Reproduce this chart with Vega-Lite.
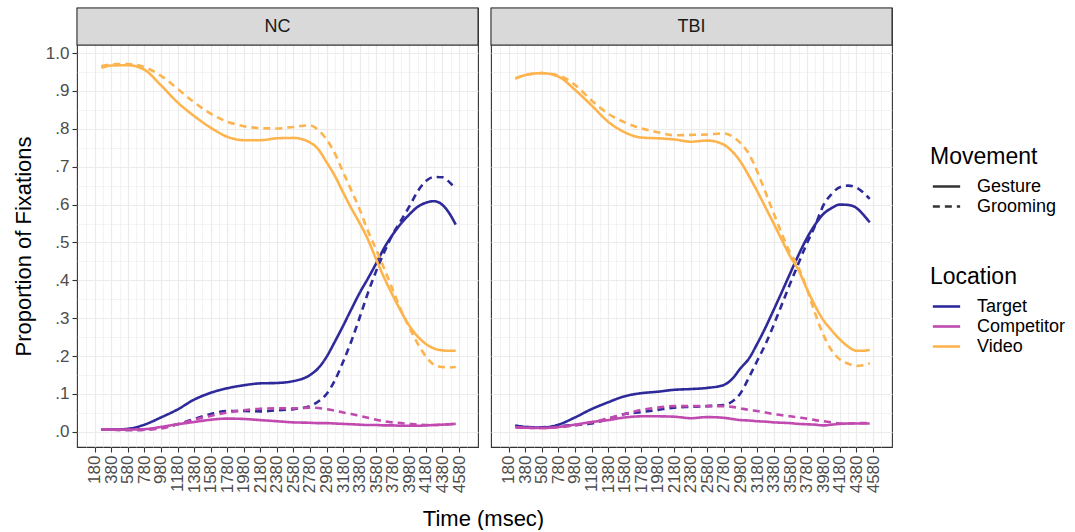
{
"$schema":"https://vega.github.io/schema/vega-lite/v6.json",
"padding":{"left":11,"top":6,"right":0,"bottom":0},
"background":"white",
"bounds":"flush",
"config":{"font":"Liberation Sans","view":{"stroke":"#333333","strokeWidth":1.1},
"legend":{"titleFontSize":23,"titleFontWeight":"normal","titleColor":"black","labelFontSize":18,"labelColor":"black","symbolType":"M-1.55,0H1.55","symbolSize":310,"symbolStrokeWidth":2.6,"symbolFillColor":"transparent","symbolOffset":6,"rowPadding":0,"titlePadding":7,"labelOffset":20}},
"datasets":{"fix":[
{"group":"NC","location":"Target","time":260,"Gesture":0.007,"Grooming":0.007},
{"group":"NC","location":"Target","time":380,"Gesture":0.006,"Grooming":0.006},
{"group":"NC","location":"Target","time":580,"Gesture":0.008,"Grooming":0.005},
{"group":"NC","location":"Target","time":780,"Gesture":0.019,"Grooming":0.006},
{"group":"NC","location":"Target","time":980,"Gesture":0.038,"Grooming":0.011},
{"group":"NC","location":"Target","time":1180,"Gesture":0.059,"Grooming":0.020},
{"group":"NC","location":"Target","time":1380,"Gesture":0.085,"Grooming":0.034},
{"group":"NC","location":"Target","time":1580,"Gesture":0.103,"Grooming":0.047},
{"group":"NC","location":"Target","time":1780,"Gesture":0.115,"Grooming":0.055},
{"group":"NC","location":"Target","time":1980,"Gesture":0.123,"Grooming":0.055},
{"group":"NC","location":"Target","time":2180,"Gesture":0.128,"Grooming":0.054},
{"group":"NC","location":"Target","time":2380,"Gesture":0.129,"Grooming":0.057},
{"group":"NC","location":"Target","time":2580,"Gesture":0.134,"Grooming":0.060},
{"group":"NC","location":"Target","time":2780,"Gesture":0.150,"Grooming":0.068},
{"group":"NC","location":"Target","time":2880,"Gesture":0.168,"Grooming":0.080},
{"group":"NC","location":"Target","time":2980,"Gesture":0.198,"Grooming":0.100},
{"group":"NC","location":"Target","time":3080,"Gesture":0.238,"Grooming":0.136},
{"group":"NC","location":"Target","time":3180,"Gesture":0.280,"Grooming":0.185},
{"group":"NC","location":"Target","time":3280,"Gesture":0.324,"Grooming":0.240},
{"group":"NC","location":"Target","time":3380,"Gesture":0.367,"Grooming":0.302},
{"group":"NC","location":"Target","time":3480,"Gesture":0.405,"Grooming":0.367},
{"group":"NC","location":"Target","time":3580,"Gesture":0.445,"Grooming":0.425},
{"group":"NC","location":"Target","time":3680,"Gesture":0.487,"Grooming":0.476},
{"group":"NC","location":"Target","time":3780,"Gesture":0.521,"Grooming":0.522},
{"group":"NC","location":"Target","time":3880,"Gesture":0.550,"Grooming":0.558},
{"group":"NC","location":"Target","time":3980,"Gesture":0.574,"Grooming":0.595},
{"group":"NC","location":"Target","time":4080,"Gesture":0.594,"Grooming":0.635},
{"group":"NC","location":"Target","time":4180,"Gesture":0.605,"Grooming":0.662},
{"group":"NC","location":"Target","time":4280,"Gesture":0.609,"Grooming":0.673},
{"group":"NC","location":"Target","time":4380,"Gesture":0.599,"Grooming":0.672},
{"group":"NC","location":"Target","time":4460,"Gesture":0.578,"Grooming":0.660},
{"group":"NC","location":"Target","time":4540,"Gesture":0.547,"Grooming":0.641},
{"group":"NC","location":"Competitor","time":260,"Gesture":0.007,"Grooming":0.007},
{"group":"NC","location":"Competitor","time":380,"Gesture":0.006,"Grooming":0.006},
{"group":"NC","location":"Competitor","time":580,"Gesture":0.006,"Grooming":0.005},
{"group":"NC","location":"Competitor","time":780,"Gesture":0.007,"Grooming":0.006},
{"group":"NC","location":"Competitor","time":980,"Gesture":0.013,"Grooming":0.009},
{"group":"NC","location":"Competitor","time":1180,"Gesture":0.020,"Grooming":0.020},
{"group":"NC","location":"Competitor","time":1380,"Gesture":0.026,"Grooming":0.032},
{"group":"NC","location":"Competitor","time":1580,"Gesture":0.032,"Grooming":0.042},
{"group":"NC","location":"Competitor","time":1780,"Gesture":0.035,"Grooming":0.051},
{"group":"NC","location":"Competitor","time":1980,"Gesture":0.034,"Grooming":0.057},
{"group":"NC","location":"Competitor","time":2180,"Gesture":0.031,"Grooming":0.061},
{"group":"NC","location":"Competitor","time":2380,"Gesture":0.028,"Grooming":0.062},
{"group":"NC","location":"Competitor","time":2580,"Gesture":0.025,"Grooming":0.062},
{"group":"NC","location":"Competitor","time":2780,"Gesture":0.024,"Grooming":0.064},
{"group":"NC","location":"Competitor","time":2880,"Gesture":0.023,"Grooming":0.063},
{"group":"NC","location":"Competitor","time":2980,"Gesture":0.023,"Grooming":0.060},
{"group":"NC","location":"Competitor","time":3080,"Gesture":0.022,"Grooming":0.056},
{"group":"NC","location":"Competitor","time":3180,"Gesture":0.021,"Grooming":0.051},
{"group":"NC","location":"Competitor","time":3280,"Gesture":0.020,"Grooming":0.047},
{"group":"NC","location":"Competitor","time":3380,"Gesture":0.019,"Grooming":0.042},
{"group":"NC","location":"Competitor","time":3480,"Gesture":0.018,"Grooming":0.037},
{"group":"NC","location":"Competitor","time":3580,"Gesture":0.018,"Grooming":0.032},
{"group":"NC","location":"Competitor","time":3680,"Gesture":0.017,"Grooming":0.028},
{"group":"NC","location":"Competitor","time":3780,"Gesture":0.017,"Grooming":0.025},
{"group":"NC","location":"Competitor","time":3880,"Gesture":0.016,"Grooming":0.023},
{"group":"NC","location":"Competitor","time":3980,"Gesture":0.016,"Grooming":0.021},
{"group":"NC","location":"Competitor","time":4080,"Gesture":0.016,"Grooming":0.019},
{"group":"NC","location":"Competitor","time":4180,"Gesture":0.017,"Grooming":0.018},
{"group":"NC","location":"Competitor","time":4280,"Gesture":0.018,"Grooming":0.018},
{"group":"NC","location":"Competitor","time":4380,"Gesture":0.019,"Grooming":0.019},
{"group":"NC","location":"Competitor","time":4460,"Gesture":0.020,"Grooming":0.020},
{"group":"NC","location":"Competitor","time":4540,"Gesture":0.021,"Grooming":0.021},
{"group":"NC","location":"Video","time":260,"Gesture":0.961,"Grooming":0.966},
{"group":"NC","location":"Video","time":380,"Gesture":0.967,"Grooming":0.970},
{"group":"NC","location":"Video","time":580,"Gesture":0.968,"Grooming":0.971},
{"group":"NC","location":"Video","time":780,"Gesture":0.956,"Grooming":0.963},
{"group":"NC","location":"Video","time":980,"Gesture":0.915,"Grooming":0.940},
{"group":"NC","location":"Video","time":1180,"Gesture":0.870,"Grooming":0.906},
{"group":"NC","location":"Video","time":1380,"Gesture":0.834,"Grooming":0.870},
{"group":"NC","location":"Video","time":1580,"Gesture":0.803,"Grooming":0.840},
{"group":"NC","location":"Video","time":1780,"Gesture":0.779,"Grooming":0.819},
{"group":"NC","location":"Video","time":1980,"Gesture":0.770,"Grooming":0.807},
{"group":"NC","location":"Video","time":2180,"Gesture":0.770,"Grooming":0.802},
{"group":"NC","location":"Video","time":2380,"Gesture":0.775,"Grooming":0.801},
{"group":"NC","location":"Video","time":2580,"Gesture":0.776,"Grooming":0.805},
{"group":"NC","location":"Video","time":2780,"Gesture":0.764,"Grooming":0.809},
{"group":"NC","location":"Video","time":2880,"Gesture":0.746,"Grooming":0.797},
{"group":"NC","location":"Video","time":2980,"Gesture":0.712,"Grooming":0.772},
{"group":"NC","location":"Video","time":3080,"Gesture":0.676,"Grooming":0.735},
{"group":"NC","location":"Video","time":3180,"Gesture":0.632,"Grooming":0.686},
{"group":"NC","location":"Video","time":3280,"Gesture":0.590,"Grooming":0.637},
{"group":"NC","location":"Video","time":3380,"Gesture":0.551,"Grooming":0.587},
{"group":"NC","location":"Video","time":3480,"Gesture":0.508,"Grooming":0.530},
{"group":"NC","location":"Video","time":3580,"Gesture":0.455,"Grooming":0.481},
{"group":"NC","location":"Video","time":3680,"Gesture":0.405,"Grooming":0.429},
{"group":"NC","location":"Video","time":3780,"Gesture":0.360,"Grooming":0.375},
{"group":"NC","location":"Video","time":3880,"Gesture":0.318,"Grooming":0.321},
{"group":"NC","location":"Video","time":3980,"Gesture":0.280,"Grooming":0.275},
{"group":"NC","location":"Video","time":4080,"Gesture":0.252,"Grooming":0.233},
{"group":"NC","location":"Video","time":4180,"Gesture":0.232,"Grooming":0.199},
{"group":"NC","location":"Video","time":4280,"Gesture":0.220,"Grooming":0.177},
{"group":"NC","location":"Video","time":4380,"Gesture":0.215,"Grooming":0.171},
{"group":"NC","location":"Video","time":4460,"Gesture":0.214,"Grooming":0.170},
{"group":"NC","location":"Video","time":4540,"Gesture":0.214,"Grooming":0.171},
{"group":"TBI","location":"Target","time":260,"Gesture":0.016,"Grooming":0.016},
{"group":"TBI","location":"Target","time":380,"Gesture":0.013,"Grooming":0.013},
{"group":"TBI","location":"Target","time":580,"Gesture":0.011,"Grooming":0.012},
{"group":"TBI","location":"Target","time":780,"Gesture":0.019,"Grooming":0.015},
{"group":"TBI","location":"Target","time":980,"Gesture":0.038,"Grooming":0.018},
{"group":"TBI","location":"Target","time":1180,"Gesture":0.060,"Grooming":0.022},
{"group":"TBI","location":"Target","time":1380,"Gesture":0.078,"Grooming":0.034},
{"group":"TBI","location":"Target","time":1580,"Gesture":0.094,"Grooming":0.047},
{"group":"TBI","location":"Target","time":1780,"Gesture":0.102,"Grooming":0.052},
{"group":"TBI","location":"Target","time":1980,"Gesture":0.106,"Grooming":0.058},
{"group":"TBI","location":"Target","time":2180,"Gesture":0.111,"Grooming":0.064},
{"group":"TBI","location":"Target","time":2380,"Gesture":0.113,"Grooming":0.066},
{"group":"TBI","location":"Target","time":2580,"Gesture":0.116,"Grooming":0.068},
{"group":"TBI","location":"Target","time":2780,"Gesture":0.124,"Grooming":0.071},
{"group":"TBI","location":"Target","time":2880,"Gesture":0.140,"Grooming":0.080},
{"group":"TBI","location":"Target","time":2980,"Gesture":0.168,"Grooming":0.102},
{"group":"TBI","location":"Target","time":3080,"Gesture":0.193,"Grooming":0.143},
{"group":"TBI","location":"Target","time":3180,"Gesture":0.232,"Grooming":0.187},
{"group":"TBI","location":"Target","time":3280,"Gesture":0.275,"Grooming":0.231},
{"group":"TBI","location":"Target","time":3380,"Gesture":0.322,"Grooming":0.282},
{"group":"TBI","location":"Target","time":3480,"Gesture":0.370,"Grooming":0.337},
{"group":"TBI","location":"Target","time":3580,"Gesture":0.419,"Grooming":0.392},
{"group":"TBI","location":"Target","time":3680,"Gesture":0.467,"Grooming":0.445},
{"group":"TBI","location":"Target","time":3780,"Gesture":0.511,"Grooming":0.497},
{"group":"TBI","location":"Target","time":3880,"Gesture":0.547,"Grooming":0.544},
{"group":"TBI","location":"Target","time":3980,"Gesture":0.575,"Grooming":0.598},
{"group":"TBI","location":"Target","time":4080,"Gesture":0.591,"Grooming":0.628},
{"group":"TBI","location":"Target","time":4180,"Gesture":0.600,"Grooming":0.646},
{"group":"TBI","location":"Target","time":4280,"Gesture":0.599,"Grooming":0.650},
{"group":"TBI","location":"Target","time":4380,"Gesture":0.591,"Grooming":0.645},
{"group":"TBI","location":"Target","time":4460,"Gesture":0.574,"Grooming":0.632},
{"group":"TBI","location":"Target","time":4540,"Gesture":0.553,"Grooming":0.615},
{"group":"TBI","location":"Competitor","time":260,"Gesture":0.012,"Grooming":0.012},
{"group":"TBI","location":"Competitor","time":380,"Gesture":0.011,"Grooming":0.011},
{"group":"TBI","location":"Competitor","time":580,"Gesture":0.010,"Grooming":0.010},
{"group":"TBI","location":"Competitor","time":780,"Gesture":0.013,"Grooming":0.012},
{"group":"TBI","location":"Competitor","time":980,"Gesture":0.019,"Grooming":0.017},
{"group":"TBI","location":"Competitor","time":1180,"Gesture":0.026,"Grooming":0.025},
{"group":"TBI","location":"Competitor","time":1380,"Gesture":0.031,"Grooming":0.036},
{"group":"TBI","location":"Competitor","time":1580,"Gesture":0.038,"Grooming":0.047},
{"group":"TBI","location":"Competitor","time":1780,"Gesture":0.041,"Grooming":0.058},
{"group":"TBI","location":"Competitor","time":1980,"Gesture":0.041,"Grooming":0.064},
{"group":"TBI","location":"Competitor","time":2180,"Gesture":0.040,"Grooming":0.068},
{"group":"TBI","location":"Competitor","time":2380,"Gesture":0.036,"Grooming":0.068},
{"group":"TBI","location":"Competitor","time":2580,"Gesture":0.039,"Grooming":0.068},
{"group":"TBI","location":"Competitor","time":2780,"Gesture":0.037,"Grooming":0.068},
{"group":"TBI","location":"Competitor","time":2880,"Gesture":0.034,"Grooming":0.066},
{"group":"TBI","location":"Competitor","time":2980,"Gesture":0.031,"Grooming":0.062},
{"group":"TBI","location":"Competitor","time":3080,"Gesture":0.030,"Grooming":0.058},
{"group":"TBI","location":"Competitor","time":3180,"Gesture":0.028,"Grooming":0.055},
{"group":"TBI","location":"Competitor","time":3280,"Gesture":0.027,"Grooming":0.051},
{"group":"TBI","location":"Competitor","time":3380,"Gesture":0.025,"Grooming":0.047},
{"group":"TBI","location":"Competitor","time":3480,"Gesture":0.024,"Grooming":0.044},
{"group":"TBI","location":"Competitor","time":3580,"Gesture":0.023,"Grooming":0.041},
{"group":"TBI","location":"Competitor","time":3680,"Gesture":0.021,"Grooming":0.038},
{"group":"TBI","location":"Competitor","time":3780,"Gesture":0.020,"Grooming":0.035},
{"group":"TBI","location":"Competitor","time":3880,"Gesture":0.019,"Grooming":0.031},
{"group":"TBI","location":"Competitor","time":3980,"Gesture":0.017,"Grooming":0.028},
{"group":"TBI","location":"Competitor","time":4080,"Gesture":0.019,"Grooming":0.025},
{"group":"TBI","location":"Competitor","time":4180,"Gesture":0.021,"Grooming":0.022},
{"group":"TBI","location":"Competitor","time":4280,"Gesture":0.022,"Grooming":0.022},
{"group":"TBI","location":"Competitor","time":4380,"Gesture":0.022,"Grooming":0.023},
{"group":"TBI","location":"Competitor","time":4460,"Gesture":0.022,"Grooming":0.023},
{"group":"TBI","location":"Competitor","time":4540,"Gesture":0.022,"Grooming":0.024},
{"group":"TBI","location":"Video","time":260,"Gesture":0.933,"Grooming":0.933},
{"group":"TBI","location":"Video","time":380,"Gesture":0.942,"Grooming":0.942},
{"group":"TBI","location":"Video","time":580,"Gesture":0.947,"Grooming":0.947},
{"group":"TBI","location":"Video","time":780,"Gesture":0.938,"Grooming":0.941},
{"group":"TBI","location":"Video","time":980,"Gesture":0.903,"Grooming":0.916},
{"group":"TBI","location":"Video","time":1180,"Gesture":0.862,"Grooming":0.875},
{"group":"TBI","location":"Video","time":1380,"Gesture":0.819,"Grooming":0.840},
{"group":"TBI","location":"Video","time":1580,"Gesture":0.791,"Grooming":0.817},
{"group":"TBI","location":"Video","time":1780,"Gesture":0.777,"Grooming":0.801},
{"group":"TBI","location":"Video","time":1980,"Gesture":0.775,"Grooming":0.791},
{"group":"TBI","location":"Video","time":2180,"Gesture":0.772,"Grooming":0.783},
{"group":"TBI","location":"Video","time":2380,"Gesture":0.766,"Grooming":0.784},
{"group":"TBI","location":"Video","time":2580,"Gesture":0.769,"Grooming":0.785},
{"group":"TBI","location":"Video","time":2780,"Gesture":0.758,"Grooming":0.788},
{"group":"TBI","location":"Video","time":2880,"Gesture":0.740,"Grooming":0.780},
{"group":"TBI","location":"Video","time":2980,"Gesture":0.713,"Grooming":0.762},
{"group":"TBI","location":"Video","time":3080,"Gesture":0.676,"Grooming":0.734},
{"group":"TBI","location":"Video","time":3180,"Gesture":0.636,"Grooming":0.688},
{"group":"TBI","location":"Video","time":3280,"Gesture":0.593,"Grooming":0.633},
{"group":"TBI","location":"Video","time":3380,"Gesture":0.550,"Grooming":0.577},
{"group":"TBI","location":"Video","time":3480,"Gesture":0.506,"Grooming":0.522},
{"group":"TBI","location":"Video","time":3580,"Gesture":0.463,"Grooming":0.472},
{"group":"TBI","location":"Video","time":3680,"Gesture":0.427,"Grooming":0.434},
{"group":"TBI","location":"Video","time":3780,"Gesture":0.378,"Grooming":0.378},
{"group":"TBI","location":"Video","time":3880,"Gesture":0.333,"Grooming":0.313},
{"group":"TBI","location":"Video","time":3980,"Gesture":0.295,"Grooming":0.256},
{"group":"TBI","location":"Video","time":4080,"Gesture":0.268,"Grooming":0.215},
{"group":"TBI","location":"Video","time":4180,"Gesture":0.244,"Grooming":0.191},
{"group":"TBI","location":"Video","time":4280,"Gesture":0.225,"Grooming":0.180},
{"group":"TBI","location":"Video","time":4380,"Gesture":0.214,"Grooming":0.174},
{"group":"TBI","location":"Video","time":4460,"Gesture":0.214,"Grooming":0.176},
{"group":"TBI","location":"Video","time":4540,"Gesture":0.217,"Grooming":0.181}
]},
"data":{"name":"fix"},
"spacing":13,
"hconcat":[
{"width":401,"height":439,
"layer":[
{"mark":{"type":"line","interpolate":"monotone","strokeWidth":2.6},
"transform":[{"filter":"datum.group === 'NC'"},{"fold":["Gesture","Grooming"],"as":["movement","prop"]}],
"encoding":{
"x":{"field":"time","type":"quantitative","scale":{"domain":[-34,4809],"nice":false,"zero":false},
"axis":{"values":[180,380,580,780,980,1180,1380,1580,1780,1980,2180,2380,2580,2780,2980,3180,3380,3580,3780,3980,4180,4380,4580],"format":"d","labelAngle":-90,"labelAlign":"right","labelBaseline":"middle","labelFontSize":17,"labelColor":"#4D4D4D","labelPadding":3,"labelFlush":false,"labelOverlap":false,"tickColor":"#333333","tickSize":5,"tickWidth":1.1,"domain":false,"grid":true,"gridColor":"#EBEBEB","gridWidth":1.2,"title":"Time (msec)","titleFontSize":22,"titleFontWeight":"normal","titleColor":"black","titleX":406,"titleY":78,"titleBaseline":"alphabetic","titleAlign":"center"}},
"y":{"field":"prop","type":"quantitative","scale":{"domain":[-0.04,1.119],"nice":false,"zero":false},
"axis":{"values":[0,0.1,0.2,0.3,0.4,0.5,0.6,0.7,0.8,0.9,1.0],"labelExpr":"datum.value >= 1 ? '1.0' : replace(format(datum.value, '.1f'), '0.', '.')","labelFontSize":17,"labelColor":"#4D4D4D","labelPadding":3,"labelFlush":false,"tickColor":"#333333","tickSize":5,"tickWidth":1.1,"domain":false,"grid":true,"gridColor":"#EBEBEB","gridWidth":1.2,"title":"Proportion of Fixations","titleFontSize":22,"titleFontWeight":"normal","titleColor":"black","titleY":238,"titlePadding":10}},
"color":{"field":"location","type":"nominal","scale":{"domain":["Target","Competitor","Video"],"range":["#2E2A9A","#C04AB0","#FDB44E"]},"legend":{"title":"Location","orient":"none","legendX":853,"legendY":258}},
"strokeDash":{"field":"movement","type":"nominal","scale":{"domain":["Gesture","Grooming"],"range":[[1,0],[7,5]]},"legend":{"title":"Movement","orient":"none","legendX":853,"legendY":138,"symbolStrokeColor":"#333333"}}
}},
{"data":{"values":[{}]},"mark":{"type":"rect","fill":"#D9D9D9","stroke":"#333333","strokeWidth":1.1},
"encoding":{"x":{"datum":-34,"type":"quantitative","axis":{"orient":"top","values":[80,280,480,680,880,1080,1280,1480,1680,1880,2080,2280,2480,2680,2880,3080,3280,3480,3680,3880,4080,4280,4480,4680],"grid":true,"gridColor":"#EBEBEB","gridWidth":0.6,"labels":false,"ticks":false,"domain":false,"title":null}},"x2":{"datum":4809},
"y":{"datum":1.021,"type":"quantitative","axis":{"orient":"right","values":[0.05,0.15,0.25,0.35,0.45,0.55,0.65,0.75,0.85,0.95],"grid":true,"gridColor":"#EBEBEB","gridWidth":0.6,"labels":false,"ticks":false,"domain":false,"title":null}},"y2":{"datum":1.119}}},
{"data":{"values":[{"group":"NC"}]},"mark":{"type":"text","fontSize":18,"color":"#1A1A1A","baseline":"middle","align":"center"},
"encoding":{"x":{"datum":2387.5,"type":"quantitative","axis":null},"y":{"datum":1.07,"type":"quantitative","axis":null},"text":{"field":"group"}}}
],
"resolve":{"axis":{"x":"independent","y":"independent"}}},
{"width":401,"height":439,
"layer":[
{"mark":{"type":"line","interpolate":"monotone","strokeWidth":2.6},
"transform":[{"filter":"datum.group === 'TBI'"},{"fold":["Gesture","Grooming"],"as":["movement","prop"]}],
"encoding":{
"x":{"field":"time","type":"quantitative","scale":{"domain":[-34,4809],"nice":false,"zero":false},
"axis":{"values":[180,380,580,780,980,1180,1380,1580,1780,1980,2180,2380,2580,2780,2980,3180,3380,3580,3780,3980,4180,4380,4580],"format":"d","labelAngle":-90,"labelAlign":"right","labelBaseline":"middle","labelFontSize":17,"labelColor":"#4D4D4D","labelPadding":3,"labelFlush":false,"labelOverlap":false,"tickColor":"#333333","tickSize":5,"tickWidth":1.1,"domain":false,"grid":true,"gridColor":"#EBEBEB","gridWidth":1.2,"title":null}},
"y":{"field":"prop","type":"quantitative","scale":{"domain":[-0.04,1.119],"nice":false,"zero":false},
"axis":{"values":[0,0.1,0.2,0.3,0.4,0.5,0.6,0.7,0.8,0.9,1.0],"labels":false,"ticks":false,"domain":false,"grid":true,"gridColor":"#EBEBEB","gridWidth":1.2,"title":null}},
"color":{"field":"location","type":"nominal","legend":null},
"strokeDash":{"field":"movement","type":"nominal","legend":null}
}},
{"data":{"values":[{}]},"mark":{"type":"rect","fill":"#D9D9D9","stroke":"#333333","strokeWidth":1.1},
"encoding":{"x":{"datum":-34,"type":"quantitative","axis":{"orient":"top","values":[80,280,480,680,880,1080,1280,1480,1680,1880,2080,2280,2480,2680,2880,3080,3280,3480,3680,3880,4080,4280,4480,4680],"grid":true,"gridColor":"#EBEBEB","gridWidth":0.6,"labels":false,"ticks":false,"domain":false,"title":null}},"x2":{"datum":4809},
"y":{"datum":1.021,"type":"quantitative","axis":{"orient":"right","values":[0.05,0.15,0.25,0.35,0.45,0.55,0.65,0.75,0.85,0.95],"grid":true,"gridColor":"#EBEBEB","gridWidth":0.6,"labels":false,"ticks":false,"domain":false,"title":null}},"y2":{"datum":1.119}}},
{"data":{"values":[{"group":"TBI"}]},"mark":{"type":"text","fontSize":18,"color":"#1A1A1A","baseline":"middle","align":"center"},
"encoding":{"x":{"datum":2387.5,"type":"quantitative","axis":null},"y":{"datum":1.07,"type":"quantitative","axis":null},"text":{"field":"group"}}}
],
"resolve":{"axis":{"x":"independent","y":"independent"}}}
],
"resolve":{"scale":{"color":"shared","strokeDash":"shared"}}
}
